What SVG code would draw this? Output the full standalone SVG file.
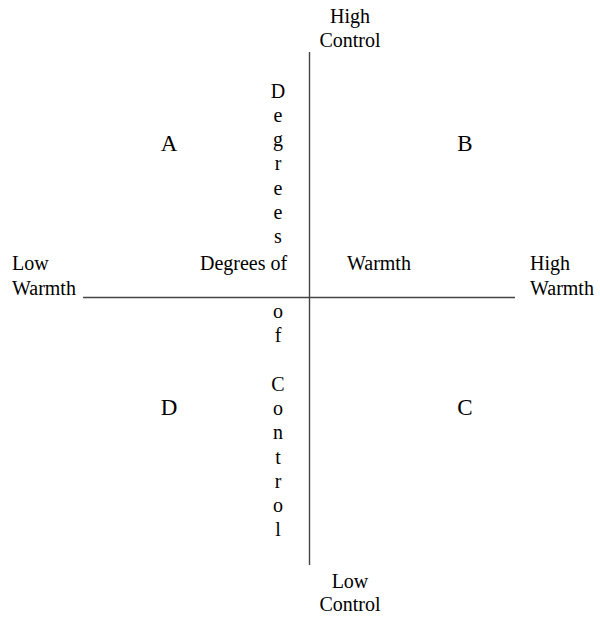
<svg xmlns="http://www.w3.org/2000/svg" width="600" height="617" viewBox="0 0 600 617">
<style>
text{font-family:"Liberation Serif","Times New Roman",serif;font-size:20px;fill:#000}
.q{font-size:23px}
.v{text-anchor:middle}
.ax{stroke:#444;stroke-width:1.4;fill:none}
</style>
<rect width="600" height="617" fill="#fff"/>
<g id="connectors">
<line class="ax" x1="309.5" y1="52" x2="309.5" y2="565"/>
<line class="ax" x1="83" y1="297.5" x2="515" y2="297.5"/>
</g>
<g id="high-control"><text x="350" y="23" class="v">High</text><text x="350" y="47" class="v">Control</text></g>
<g id="low-control"><text x="350" y="588" class="v">Low</text><text x="350" y="611" class="v">Control</text></g>
<g id="low-warmth"><text x="12" y="270">Low</text><text x="12" y="295">Warmth</text></g>
<g id="high-warmth"><text x="530" y="270">High</text><text x="530" y="295">Warmth</text></g>
<g id="warmth-label"><text x="200" y="270">Degrees of</text><text x="347" y="270">Warmth</text></g>
<g id="control-label">
<text x="278" y="98" class="v">D</text>
<text x="278" y="122" class="v">e</text>
<text x="278" y="146" class="v">g</text>
<text x="278" y="170" class="v">r</text>
<text x="278" y="195" class="v">e</text>
<text x="278" y="219" class="v">e</text>
<text x="278" y="243" class="v">s</text>
<text x="278" y="318" class="v">o</text>
<text x="278" y="342" class="v">f</text>
<text x="278" y="391" class="v">C</text>
<text x="278" y="415" class="v">o</text>
<text x="278" y="439" class="v">n</text>
<text x="278" y="464" class="v">t</text>
<text x="278" y="488" class="v">r</text>
<text x="278" y="512" class="v">o</text>
<text x="278" y="536" class="v">l</text>
</g>
<g id="quadrant-a"><text x="169" y="151" class="q v">A</text></g>
<g id="quadrant-b"><text x="465" y="151" class="q v">B</text></g>
<g id="quadrant-d"><text x="169" y="415" class="q v">D</text></g>
<g id="quadrant-c"><text x="465" y="415" class="q v">C</text></g>
</svg>
